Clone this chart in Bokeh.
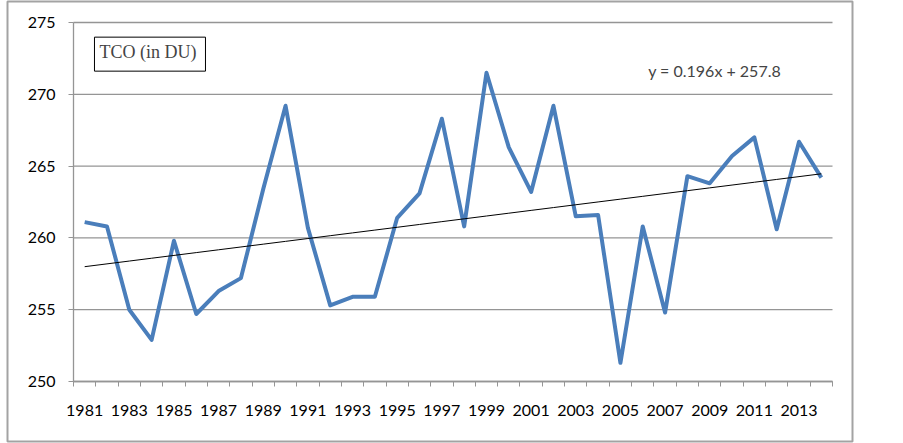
from bokeh.plotting import figure
from bokeh.models import FixedTicker, Label, ColumnDataSource, Range1d
from bokeh.embed import file_html
from bokeh.resources import INLINE

years = list(range(1981, 2015))
tco = [261.1, 260.8, 255.0, 252.9, 259.8, 254.7, 256.3, 257.2, 263.4, 269.2,
       260.7, 255.3, 255.9, 255.9, 261.4, 263.1, 268.3, 260.8, 271.5, 266.3,
       263.2, 269.2, 261.5, 261.6, 251.3, 260.8, 254.8, 264.3, 263.8, 265.7,
       267.0, 260.6, 266.7, 264.2]
trend_slope = 0.196
trend_intercept = 257.8
trend = [trend_slope * (i + 1) + trend_intercept for i in range(len(years))]
x_tick_labels = list(range(1981, 2015, 2))
y_ticks = [250, 255, 260, 265, 270, 275]

FONT = "Lato"
GRAY = "#959595"

# plot-area bounds (category edges and value-axis extent)
x_lo, x_hi = years[0] - 0.5, years[-1] + 0.5
y_lo, y_hi = y_ticks[0], y_ticks[-1]

# outer chart box is the bokeh frame; plot area sits inside it
W, H = 855, 443
BL, BT, BR, BB = 7, 1, 3, 2          # canvas borders around the outer box
PL, PT, PR, PB = 66, 21, 20, 60      # plot-area insets inside the outer box
fw, fh = W - BL - BR, H - BT - BB
sx = (fw - PL - PR) / (x_hi - x_lo)
sy = (fh - PT - PB) / (y_hi - y_lo)

p = figure(width=W, height=H, output_backend="svg", toolbar_location=None,
           x_range=Range1d(x_lo - PL / sx, x_hi + PR / sx),
           y_range=Range1d(y_lo - PB / sy, y_hi + PT / sy),
           min_border_left=BL, min_border_right=BR, min_border_top=BT,
           min_border_bottom=BB)
p.outline_line_color = "#a3a3a3"
p.outline_line_width = 2
p.background_fill_color = "white"
p.border_fill_color = "white"
p.xgrid.visible = False
p.ygrid.visible = False

# horizontal gridlines across the plot area
p.segment(x0=[x_lo] * len(y_ticks), x1=[x_hi] * len(y_ticks), y0=y_ticks, y1=y_ticks,
          line_color=GRAY, line_width=1.3)

src = ColumnDataSource(dict(x=years, y=tco, t=trend))
p.line("x", "y", source=src, line_color="#4a7ebb", line_width=4, line_join="round")
p.line("x", "t", source=src, line_color="black", line_width=1)

p.yaxis.fixed_location = x_lo
p.yaxis.bounds = (y_lo, y_hi)
p.yaxis.ticker = FixedTicker(ticks=y_ticks)
p.yaxis.axis_line_color = GRAY
p.yaxis.axis_line_width = 1.3
p.yaxis.major_tick_line_color = GRAY
p.yaxis.major_tick_out = 5
p.yaxis.major_tick_in = 0
p.yaxis.minor_tick_line_color = None
p.yaxis.major_label_standoff = 13
p.yaxis.major_label_text_font = FONT
p.yaxis.major_label_text_font_size = "16px"
p.yaxis.major_label_text_color = "black"

p.xaxis.fixed_location = y_lo
p.xaxis.bounds = (x_lo, x_hi)
p.xaxis.ticker = FixedTicker(ticks=x_tick_labels,
                             minor_ticks=[y - 0.5 for y in years] + [x_hi])
p.xaxis.axis_line_color = GRAY
p.xaxis.axis_line_width = 1.3
p.xaxis.major_tick_out = 0
p.xaxis.major_tick_in = 0
p.xaxis.minor_tick_line_color = GRAY
p.xaxis.minor_tick_out = 5
p.xaxis.minor_tick_in = 0
p.xaxis.major_label_standoff = 18
p.xaxis.major_label_text_font = FONT
p.xaxis.major_label_text_font_size = "16px"
p.xaxis.major_label_text_color = "black"

title_box = Label(x=1981.44, y=273.98, text="TCO (in DU)", text_font="Liberation Serif",
                  text_font_size="18px", text_align="left", text_baseline="top",
                  border_line_color="black", border_line_width=1,
                  background_fill_color="white", padding=(5, 9, 5, 9))
p.add_layout(title_box)

eq = Label(x=2009.22, y=271.66, text="y = 0.196x + 257.8", text_font=FONT,
           text_font_size="16px", text_align="center", text_baseline="middle")
p.add_layout(eq)

open("out.html", "w").write(file_html(p, INLINE))
